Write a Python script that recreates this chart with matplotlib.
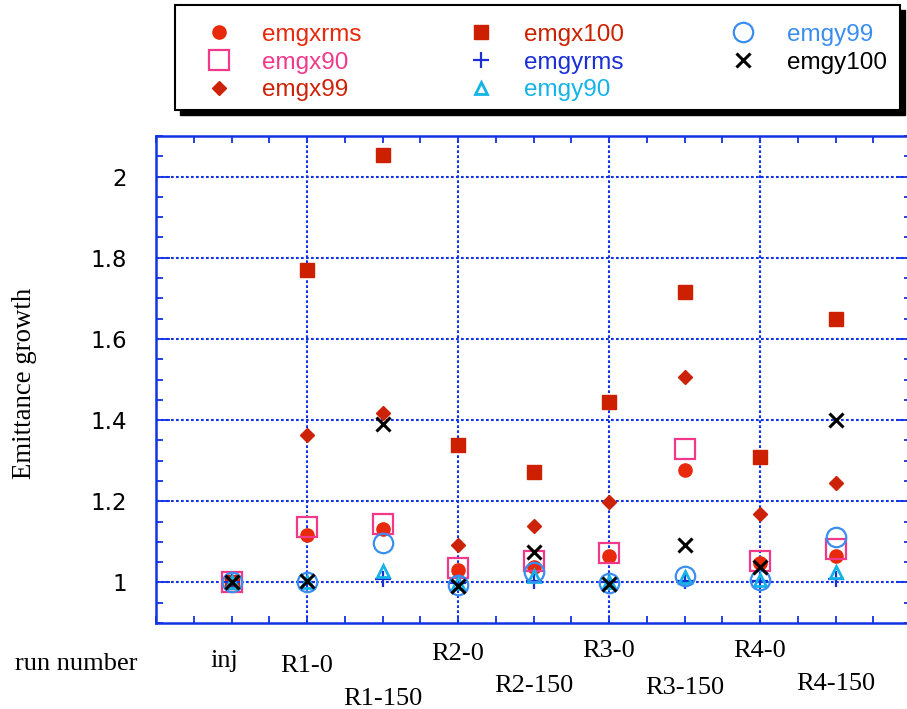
import numpy as np
import matplotlib.pyplot as plt
from matplotlib.patches import Rectangle
from matplotlib.ticker import MultipleLocator
from matplotlib.transforms import blended_transform_factory

runs = ['inj', 'R1-0', 'R1-150', 'R2-0', 'R2-150', 'R3-0', 'R3-150', 'R4-0', 'R4-150']
x = np.arange(len(runs))

emgxrms = [1.0, 1.118, 1.132, 1.030, 1.038, 1.064, 1.276, 1.049, 1.064]
emgx90 = [1.0, 1.136, 1.145, 1.035, 1.052, 1.072, 1.329, 1.053, 1.082]
emgx99 = [1.0, 1.364, 1.417, 1.092, 1.140, 1.198, 1.507, 1.169, 1.246]
emgx100 = [1.0, 1.769, 2.052, 1.338, 1.271, 1.444, 1.715, 1.310, 1.648]
emgyrms = [1.0, 1.0, 1.008, 0.998, 1.004, 1.0, 1.004, 1.003, 1.008]
emgy90 = [1.0, 1.0, 1.029, 0.998, 1.015, 1.0, 1.013, 1.007, 1.025]
emgy99 = [1.0, 1.0, 1.097, 0.994, 1.025, 0.998, 1.015, 1.007, 1.113]
emgy100 = [1.0, 1.004, 1.391, 0.990, 1.074, 0.996, 1.091, 1.038, 1.401]

yticks = [1.0, 1.2, 1.4, 1.6, 1.8, 2.0]
ytick_labels = ['1', '1.2', '1.4', '1.6', '1.8', '2']

blue = '#1232e6'

fig = plt.figure(figsize=(9.07, 7.09), dpi=100)
ax = fig.add_axes([156/907, 86/709, 755/907, 487/709])

series = [
    ('emgxrms', emgxrms, dict(marker='o', ms=9.5, color='#e8290b', ls='none')),
    ('emgx90', emgx90, dict(marker='s', ms=14, color='#f2388a', mfc='none', mew=1.6, ls='none')),
    ('emgx99', emgx99, dict(marker='D', ms=7.5, color='#cc2208', ls='none')),
    ('emgx100', emgx100, dict(marker='s', ms=10, color='#cc2000', ls='none')),
    ('emgyrms', emgyrms, dict(marker='+', ms=11, color='#1a2fd6', mew=1.6, ls='none')),
    ('emgy90', emgy90, dict(marker='^', ms=8, color='#14b4e6', mfc='none', mew=2, ls='none')),
    ('emgy99', emgy99, dict(marker='o', ms=14, color='#3a8ef0', mfc='none', mew=1.6, ls='none')),
    ('emgy100', emgy100, dict(marker='x', ms=9.5, color='black', mew=2.2, ls='none')),
]
handles = []
for name, vals, kw in series:
    h, = ax.plot(x, vals, label=name, zorder=3, **kw)
    handles.append(h)

ax.set_xlim(-1, 9)
ax.set_ylim(0.9, 2.1)
ax.set_xticks([1, 3, 5, 7])
ax.xaxis.set_minor_locator(MultipleLocator(0.5))
ax.set_xticklabels([])
ax.set_yticks(yticks)
ax.set_yticklabels(ytick_labels, fontsize=16.5, family='DejaVu Sans')
ax.yaxis.set_minor_locator(MultipleLocator(0.05))
ax.tick_params(which='both', direction='in', top=True, right=True, color=blue, width=1.3)
ax.tick_params(axis='y', which='major', length=10, pad=21)
ax.tick_params(axis='y', which='minor', length=5)
ax.tick_params(axis='x', which='both', length=5)
for s in ax.spines.values():
    s.set_color(blue)
    s.set_linewidth(1.8)
ax.grid(True, which='major', color=blue, linestyle=(0, (1.3, 1.1)), linewidth=1.5)

# run labels under the axis, staggered (baselines in pixels from the top)
trans = blended_transform_factory(ax.transData, fig.transFigure)
label_x = [-0.1, 1, 2, 3, 4, 5, 6, 7, 8]
label_base = [667, 672, 705, 660, 692, 657, 694, 657, 690]
for xi, lab, yb in zip(label_x, runs, label_base):
    ax.text(xi, (709 - yb) / 709, lab, transform=trans, fontsize=19,
            family='Liberation Serif', ha='center', va='baseline', clip_on=False)

fig.text(15/907, (709 - 670)/709, 'run number', fontsize=19, family='Liberation Serif',
         ha='left', va='baseline')
fig.text(25/907, (709 - 383)/709, 'Emittance growth', rotation=90, fontsize=19.3,
         family='Liberation Serif', ha='center', va='center')

# legend with a hard black shadow
lx0, ly0, lw, lh = 175/907, (709 - 110)/709, 725/907, 105/709
fig.patches.append(Rectangle((lx0 + 5/907, ly0 - 5/709), lw, lh, transform=fig.transFigure,
                             facecolor='black', edgecolor='black', zorder=0))
fig.patches.append(Rectangle((lx0, ly0), lw, lh, transform=fig.transFigure,
                             facecolor='white', edgecolor='black', lw=1.5, zorder=1))
leg = fig.legend(handles=handles, ncol=3, loc='center left', mode='expand',
                 bbox_to_anchor=(lx0 + 12/907, ly0 - 5/709, lw - 18/907, lh),
                 bbox_transform=fig.transFigure,
                 borderaxespad=0, frameon=False,
                 prop={'family': 'Liberation Sans', 'size': 17.5},
                 handletextpad=0.8, labelspacing=0.24, borderpad=0.3, numpoints=1)
leg.set_zorder(5)
for t, (name, vals, kw) in zip(leg.get_texts(), series):
    t.set_color(kw['color'])

fig.savefig('out.png', dpi=100)
